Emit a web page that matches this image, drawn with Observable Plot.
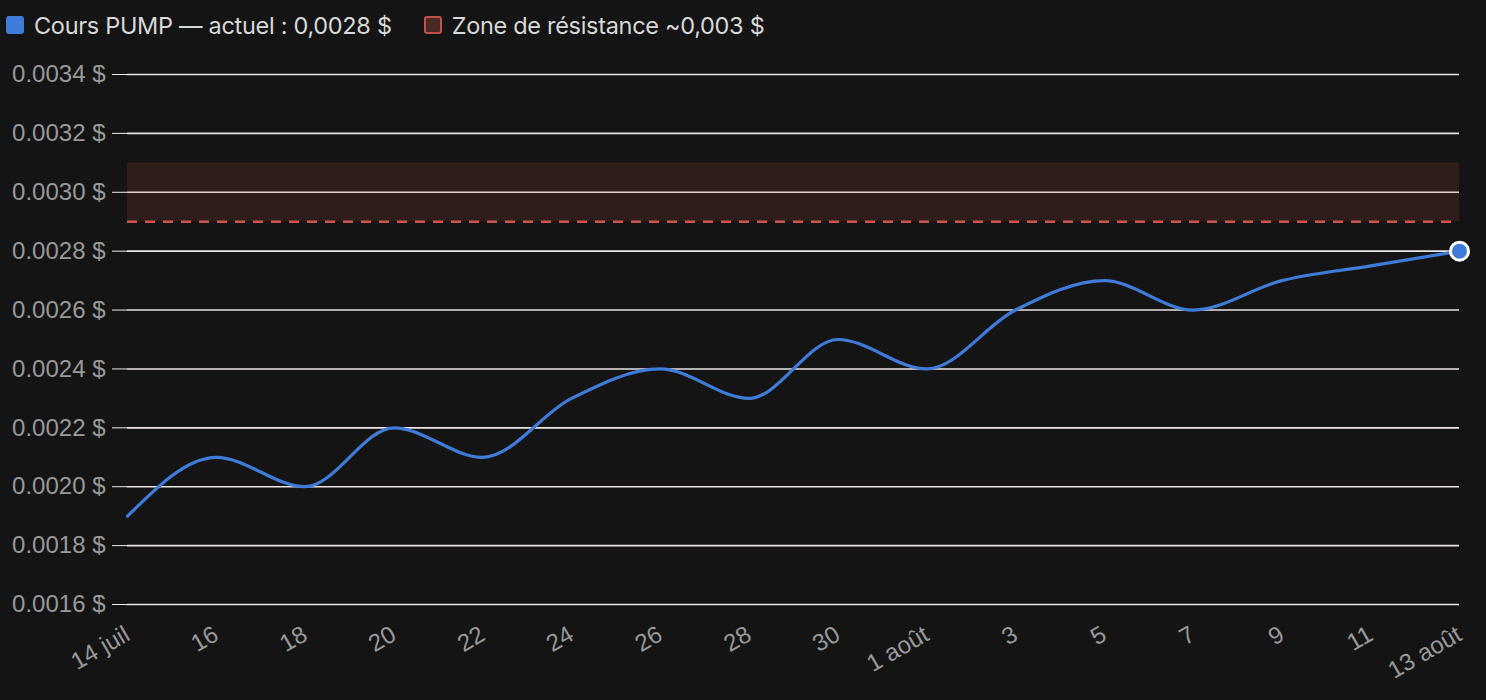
<!DOCTYPE html>
<html><head><meta charset="utf-8">
<script src="https://cdn.jsdelivr.net/npm/d3@7"></script>
<script src="https://cdn.jsdelivr.net/npm/@observablehq/plot@0.6"></script>
<style>
html,body{margin:0;padding:0;background:#141414;}
#legend{height:50px;display:flex;align-items:center;padding-left:6px;font-family:Inter,"Noto Sans",sans-serif;font-size:23.5px;color:#d8d8d8;letter-spacing:-0.3px;}
.item{display:flex;align-items:center;margin-right:32px;}
.sw{width:18px;height:18px;border-radius:3px;margin-right:10px;box-sizing:border-box;}
</style></head><body>
<div id="legend">
  <div class="item"><div class="sw" style="background:#3f7bd9"></div><span>Cours PUMP — actuel : 0,0028 $</span></div>
  <div class="item"><div class="sw" style="background:#4a2826;border:2px solid #c0504a"></div><span>Zone de résistance ~0,003 $</span></div>
</div>
<div id="chart"></div>
<script>
const dates = ["2025-07-14","2025-07-16","2025-07-18","2025-07-20","2025-07-22","2025-07-24","2025-07-26","2025-07-28","2025-07-30","2025-08-01","2025-08-03","2025-08-05","2025-08-07","2025-08-09","2025-08-11","2025-08-13"];
const prices = [0.0019,0.0021,0.0020,0.0022,0.0021,0.0023,0.0024,0.0023,0.0025,0.0024,0.0026,0.0027,0.0026,0.0027,0.00275,0.0028];
const tickLabels = ["14 juil","16","18","20","22","24","26","28","30","1 août","3","5","7","9","11","13 août"];
const yTicks = [0.0016,0.0018,0.0020,0.0022,0.0024,0.0026,0.0028,0.0030,0.0032,0.0034];
const resistanceLow = 0.0029;
const resistanceHigh = 0.0031;

const data = dates.map((d,i)=>({date:new Date(d+"T00:00:00Z"), price:prices[i]}));
const tickDates = data.map(d=>d.date);
const last = data[data.length-1];

const chart = Plot.plot({
  width:1486, height:650,
  marginLeft:127, marginRight:27, marginTop:24, marginBottom:96,
  style:{background:"#141414", color:"#999", fontFamily:"'Liberation Sans',Arial,sans-serif", fontSize:"23px"},
  x:{type:"utc", domain:[tickDates[0], tickDates[tickDates.length-1]]},
  y:{domain:[0.0016,0.0034]},
  marks:[
    Plot.gridY(yTicks,{stroke:"#ebe4e4", strokeOpacity:1, strokeWidth:1.6}),
    Plot.rectY([{x1:tickDates[0],x2:tickDates[tickDates.length-1],y1:resistanceLow,y2:resistanceHigh}],{x1:"x1",x2:"x2",y1:"y1",y2:"y2",fill:"#c8504a",fillOpacity:0.15}),
    Plot.ruleY([resistanceLow],{x1:tickDates[0],x2:tickDates[tickDates.length-1],stroke:"#d0544c",strokeWidth:2.5,strokeDasharray:"10,8"}),
    Plot.axisY(yTicks,{tickFormat:d=>d.toFixed(4)+" $", tickSize:15, tickPadding:7, stroke:"#eee", fill:"#999", fontSize:24}),
    Plot.axisX(tickDates,{tickFormat:(d,i)=>tickLabels[i], tickSize:0, tickRotate:-30, tickPadding:28, fill:"#999", fontSize:24}),
    Plot.line(data,{x:"date",y:"price",stroke:"#3f7bd9",strokeWidth:3.2,curve:"monotone-x"}),
    Plot.dot([last],{x:"date",y:"price",r:9,fill:"#3f7bd9",stroke:"#fff",strokeWidth:3})
  ]
});
document.getElementById("chart").appendChild(chart);
</script>
</body></html>
